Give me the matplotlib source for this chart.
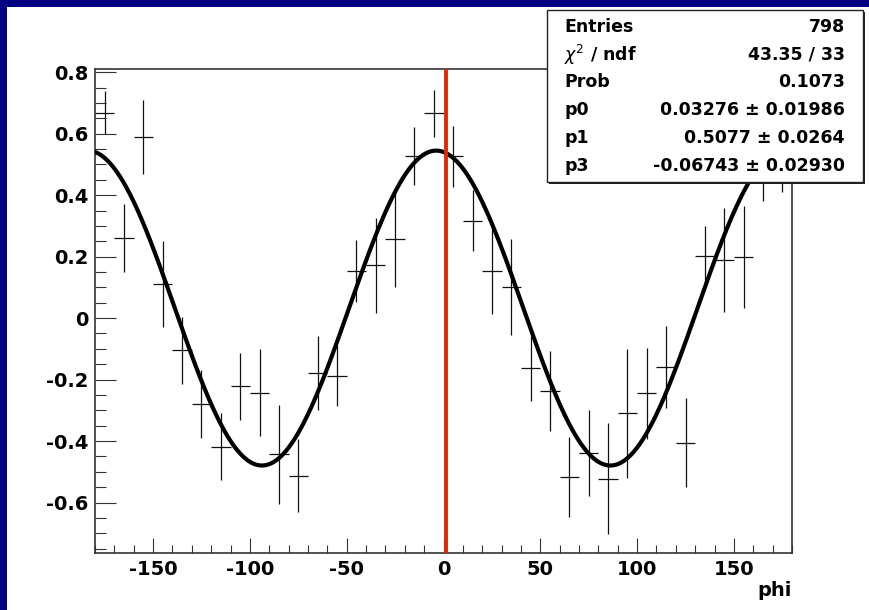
import numpy as np
import matplotlib.pyplot as plt
from matplotlib.patches import Rectangle
from matplotlib.ticker import MultipleLocator

# histogram bins (phi, degrees) with values and errors
phi = [-175, -165, -155, -145, -135, -125, -115, -105, -95, -85, -75, -65,
       -55, -45, -35, -25, -15, -5, 5, 15, 25, 35, 45, 55,
       65, 75, 85, 95, 105, 115, 125, 135, 145, 155, 165, 175]
vals = [0.668, 0.26, 0.588, 0.11, -0.105, -0.28, -0.418, -0.222, -0.242, -0.443, -0.512, -0.178,
        -0.187, 0.154, 0.172, 0.257, 0.528, 0.666, 0.526, 0.317, 0.153, 0.101, -0.163, -0.236,
        -0.517, -0.438, -0.522, -0.309, -0.245, -0.16, -0.405, 0.203, 0.189, 0.20, 0.52, 0.52]
errs = [0.07, 0.11, 0.12, 0.14, 0.11, 0.11, 0.11, 0.11, 0.14, 0.16, 0.12, 0.12,
        0.10, 0.10, 0.155, 0.155, 0.095, 0.076, 0.10, 0.10, 0.14, 0.155, 0.106, 0.13,
        0.13, 0.14, 0.18, 0.21, 0.147, 0.133, 0.144, 0.098, 0.17, 0.166, 0.14, 0.11]
bin_half = 5

# fit results from the stats box
entries = 798
chi2, ndf = 43.35, 33
prob = 0.1073
p0, p0_err = 0.03276, 0.01986
p1, p1_err = 0.5077, 0.0264
p3, p3_err = -0.06743, 0.02930

vline_x = 1.4

W, H = 869, 610
fig = plt.figure(figsize=(W / 100, H / 100), dpi=100)
fig.patch.set_facecolor('white')

# navy slide border on the top and left
fig.add_artist(Rectangle((0, 0), 7 / W, 1, transform=fig.transFigure,
                         color='#000080', lw=0, zorder=0))
fig.add_artist(Rectangle((0, 1 - 7 / H), 1, 7 / H, transform=fig.transFigure,
                         color='#000080', lw=0, zorder=0))

ax = fig.add_axes([95 / W, 1 - 553 / H, (792 - 95) / W, (553 - 68.5) / H])
ax.set_xlim(-180, 180)
ax.set_ylim(-0.764, 0.812)

# data points with error crosses
ax.errorbar(phi, vals, yerr=errs, xerr=bin_half, fmt='none', ecolor='#111111',
            elinewidth=0.9, capsize=0, zorder=3)

# fit function p0 + p1 cos(2phi) + p3 sin(2phi)
x = np.linspace(-180, 180, 721)
xr = np.radians(x)
ax.plot(x, p0 + p1 * np.cos(2 * xr) + p3 * np.sin(2 * xr), color='black', lw=3, zorder=4)

ax.axvline(vline_x, color='#dd2a0a', lw=2.8, zorder=5)

# ROOT style frame and ticks
for s in ax.spines.values():
    s.set_color('#333333')
    s.set_linewidth(1.2)
ax.xaxis.set_major_locator(MultipleLocator(50))
ax.xaxis.set_minor_locator(MultipleLocator(10))
ax.yaxis.set_major_locator(MultipleLocator(0.2))
ax.yaxis.set_minor_locator(MultipleLocator(0.05))
ax.tick_params(axis='both', which='both', direction='in', top=False, right=False,
               width=0.8, color='#333333', labelsize=14)
ax.tick_params(axis='x', which='major', length=11, pad=5)
ax.tick_params(axis='x', which='minor', length=6)
ax.tick_params(axis='y', which='major', length=15, pad=5)
ax.tick_params(axis='y', which='minor', length=8)
for lab in ax.get_xticklabels() + ax.get_yticklabels():
    lab.set_fontweight('bold')
ax.yaxis.set_major_formatter(plt.FuncFormatter(lambda v, p: f'{v:g}' if abs(v) > 1e-9 else '0'))
ax.xaxis.set_major_formatter(plt.FuncFormatter(lambda v, p: f'{v:g}'))

fig.text(792 / W, 1 - 590 / H, 'phi', ha='right', va='center', fontsize=14, fontweight='bold')

# stats box with shadow
bx0, bx1, by0, by1 = 547, 863, 10, 182
fig.add_artist(Rectangle((bx0 / W + 2 / W, 1 - by1 / H - 2 / H), (bx1 - bx0) / W, (by1 - by0) / H,
                         transform=fig.transFigure, facecolor='#222222', lw=0, zorder=6))
fig.add_artist(Rectangle((bx0 / W, 1 - by1 / H), (bx1 - bx0) / W, (by1 - by0) / H,
                         transform=fig.transFigure, facecolor='white', edgecolor='#222222',
                         lw=1.0, zorder=7))
labels = ['Entries', r'$\chi^{2}$ / ndf', 'Prob', 'p0', 'p1', 'p3']
values = [f'{entries}', f'{chi2:.2f} / {ndf}', f'{prob:.4f}',
          f'{p0:.5f} \u00b1 {p0_err:.5f}', f'{p1:.4f} \u00b1 {p1_err:.4f}',
          f'{p3:.5f} \u00b1 {p3_err:.5f}']
for i, (lab, val) in enumerate(zip(labels, values)):
    yy = 1 - (26.7 + i * 27.8) / H
    fig.text(564 / W, yy, lab, ha='left', va='center', fontsize=12.5, fontweight='bold', zorder=8)
    fig.text(845 / W, yy, val, ha='right', va='center', fontsize=12.5, fontweight='bold', zorder=8)

fig.savefig('out.png', dpi=100)
